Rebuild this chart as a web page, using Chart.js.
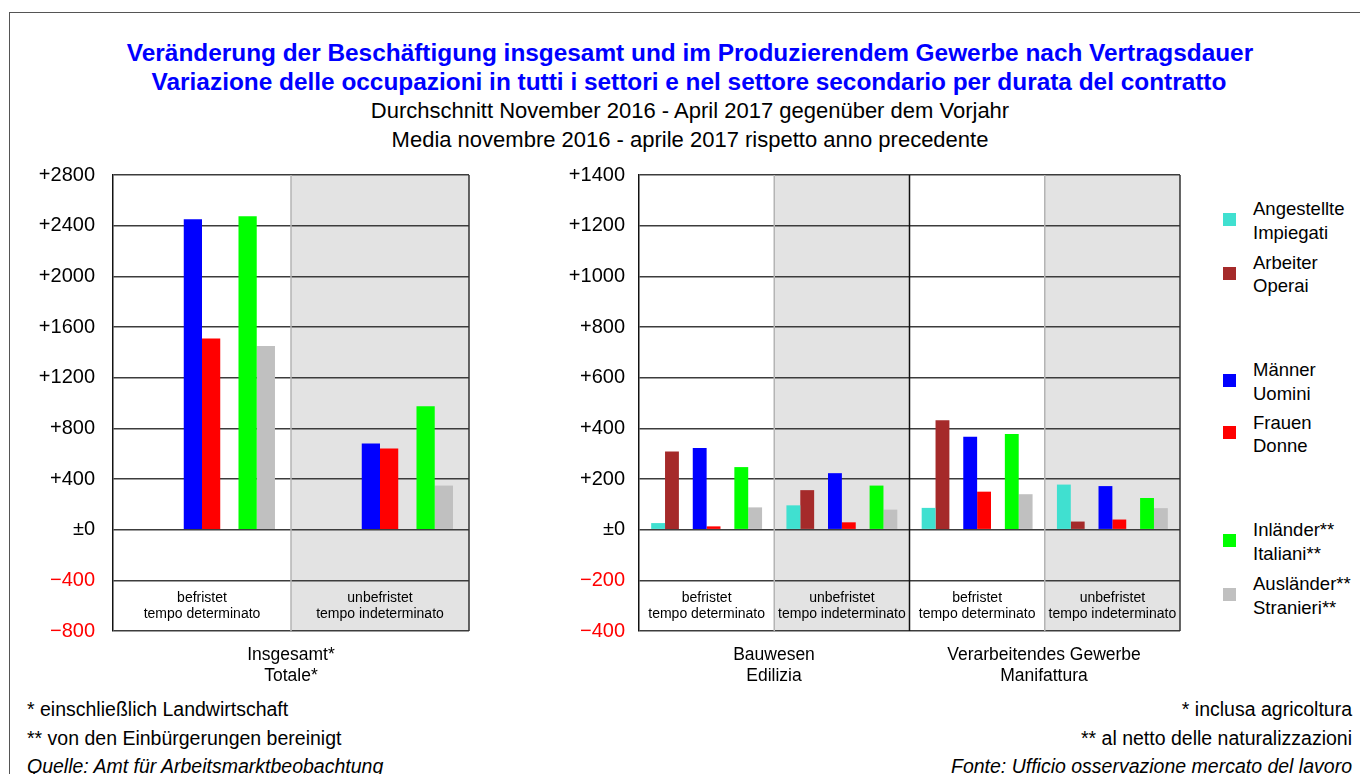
<!DOCTYPE html>
<html>
<head>
<meta charset="utf-8">
<script src="https://cdn.jsdelivr.net/npm/chart.js@4.4.0/dist/chart.umd.min.js"></script>
<style>
  body { margin: 0; background: #fff; font-family: "Liberation Sans", Arial, Helvetica, sans-serif; }
  #page { position: relative; width: 1360px; height: 774px; overflow: hidden; background: #fff; }
  #frame { position: absolute; left: 9px; top: 12px; width: 1400px; height: 800px;
           border-left: 1.5px solid #555; border-top: 1.5px solid #555; }
  .c { position: absolute; white-space: nowrap; transform: translate(-50%, -50%); }
  .title { color: #0000ff; font-weight: bold; font-size: 24.4px; }
  .sub { font-size: 22px; color: #000; }
  .axlab { font-size: 17.5px; color: #000; }
  .note { position: absolute; white-space: nowrap; font-size: 19.5px; color: #000; transform: translateY(-50%); }
  .note.r { right: 8px; }
  .note.l { left: 27px; }
  .note i { font-style: italic; }
  .sq { position: absolute; width: 13px; height: 13px; }
  .lg { position: absolute; white-space: nowrap; font-size: 18.5px; line-height: 23.5px; color: #000; }
  canvas { position: absolute; }
</style>
</head>
<body>
<div id="page">
  <div id="frame"></div>

  <div class="c title" style="left:690px; top:53px;">Veränderung der Beschäftigung insgesamt und im Produzierendem Gewerbe nach Vertragsdauer</div>
  <div class="c title" style="left:689px; top:82px;">Variazione delle occupazioni in tutti i settori e nel settore secondario per durata del contratto</div>
  <div class="c sub" style="left:690px; top:111px;">Durchschnitt November 2016 - April 2017 gegenüber dem Vorjahr</div>
  <div class="c sub" style="left:690px; top:140px;">Media novembre 2016 - aprile 2017 rispetto anno precedente</div>

  <canvas id="totale" width="480" height="560" style="left:0px; top:120px;"></canvas>
  <canvas id="settori" width="680" height="560" style="left:520px; top:120px;"></canvas>

  <div class="c axlab" style="left:291px; top:654px;">Insgesamt*</div>
  <div class="c axlab" style="left:291px; top:675px;">Totale*</div>
  <div class="c axlab" style="left:774px; top:654px;">Bauwesen</div>
  <div class="c axlab" style="left:774px; top:675px;">Edilizia</div>
  <div class="c axlab" style="left:1044px; top:654px;">Verarbeitendes Gewerbe</div>
  <div class="c axlab" style="left:1044px; top:675px;">Manifattura</div>

  <div class="note l" style="top:709px;">* einschließlich Landwirtschaft</div>
  <div class="note l" style="top:738px;">** von den Einbürgerungen bereinigt</div>
  <div class="note l" style="top:766px;"><i>Quelle: Amt für Arbeitsmarktbeobachtung</i></div>
  <div class="note r" style="top:709px;">* inclusa agricoltura</div>
  <div class="note r" style="top:738px;">** al netto delle naturalizzazioni</div>
  <div class="note r" style="top:766px;"><i>Fonte: Ufficio osservazione mercato del lavoro</i></div>

  <div id="legend"></div>
</div>

<script>
// categorie
const totaleLabels = [['befristet', 'tempo determinato'], ['unbefristet', 'tempo indeterminato']];
const settoriLabels = [
  ['befristet', 'tempo determinato'], ['unbefristet', 'tempo indeterminato'],
  ['befristet', 'tempo determinato'], ['unbefristet', 'tempo indeterminato']
];

// serie
const serieNomi = [
  ['Angestellte', 'Impiegati'],
  ['Arbeiter', 'Operai'],
  ['Männer', 'Uomini'],
  ['Frauen', 'Donne'],
  ['Inländer**', 'Italiani**'],
  ['Ausländer**', 'Stranieri**']
];
const serieColori = ['#40e0d0', '#a52a2a', '#0000ff', '#ff0000', '#00ff00', '#c0c0c0'];

// Insgesamt / Totale
const totaleMaenner = [2450, 680];
const totaleFrauen = [1510, 640];
const totaleInlaender = [2475, 975];
const totaleAuslaender = [1450, 348];

// Bauwesen (0,1) + Verarbeitendes Gewerbe (2,3)
const settoriAngestellte = [26, 96, 86, 178];
const settoriArbeiter = [309, 156, 432, 32];
const settoriMaenner = [322, 223, 367, 172];
const settoriFrauen = [13, 29, 150, 40];
const settoriInlaender = [247, 174, 378, 125];
const settoriAuslaender = [88, 79, 140, 85];

// tick
const totaleTicks = { min: -800, max: 2800, step: 400 };
const settoriTicks = { min: -400, max: 1400, step: 200 };

const FONT = '"Liberation Sans", Arial, Helvetica, sans-serif';

function formatta(v) {
  if (v > 0) return '+' + v;
  if (v == 0) return '±0';
  return '\u2212' + Math.abs(v);
}

function dataset(valori, i) {
  return { data: valori, backgroundColor: serieColori[i], borderWidth: 0 };
}

// slot vuoti fra le coppie di colonne
function vuoto(n) {
  return { data: new Array(n).fill(null), backgroundColor: 'rgba(0,0,0,0)' };
}

function costruisciSerie(ang, arb, mae, fra, inl, aus) {
  const n = mae.length;
  return [
    dataset(ang, 0), dataset(arb, 1), vuoto(n),
    dataset(mae, 2), dataset(fra, 3), vuoto(n),
    dataset(inl, 4), dataset(aus, 5)
  ];
}

const pannello = {
  id: 'pannello',
  beforeDraw(chart) {
    const ctx = chart.ctx;
    const a = chart.chartArea;
    const n = chart.data.labels.length;
    const w = (a.right - a.left) / n;
    ctx.save();
    ctx.fillStyle = '#e3e3e3';
    for (let i = 1; i < n; i += 2) {
      ctx.fillRect(a.left + i * w, a.top, w, a.bottom - a.top);
    }
    ctx.restore();
  },
  beforeDatasetsDraw(chart, args, opts) {
    const ctx = chart.ctx;
    const a = chart.chartArea;
    const n = chart.data.labels.length;
    const w = (a.right - a.left) / n;
    ctx.save();
    for (let i = 1; i < n; i++) {
      const x = a.left + i * w;
      ctx.strokeStyle = (opts.nero || []).includes(i) ? '#111' : '#b4b4b4';
      ctx.lineWidth = 1.5;
      ctx.beginPath();
      ctx.moveTo(x, a.top);
      ctx.lineTo(x, a.bottom);
      ctx.stroke();
    }
    ctx.strokeStyle = '#333';
    ctx.lineWidth = 1.5;
    ctx.beginPath();
    ctx.moveTo(a.right, a.top);
    ctx.lineTo(a.right, a.bottom);
    ctx.stroke();
    ctx.restore();
  },
  afterDatasetsDraw(chart) {
    const ctx = chart.ctx;
    const a = chart.chartArea;
    const y = chart.scales.y;
    const n = chart.data.labels.length;
    const w = (a.right - a.left) / n;
    const step = y.ticks[1].value - y.ticks[0].value;
    const yc = (y.getPixelForValue(y.min) + y.getPixelForValue(y.min + step)) / 2;
    ctx.save();
    ctx.fillStyle = '#000';
    ctx.font = '14px ' + FONT;
    ctx.textAlign = 'center';
    ctx.textBaseline = 'middle';
    chart.data.labels.forEach(function (lab, i) {
      const xc = a.left + (i + 0.5) * w;
      ctx.fillText(lab[0], xc, yc - 8);
      ctx.fillText(lab[1], xc, yc + 8.5);
    });
    ctx.restore();
  }
};

function opzioni(t, larghezzaAsse, paddingDestra, paddingTick, nero) {
  return {
    responsive: false,
    animation: false,
    layout: { padding: { top: 55, right: paddingDestra, bottom: 49, left: 0 } },
    datasets: { bar: { barPercentage: 1.0, categoryPercentage: 0.82 } },
    plugins: {
      legend: { display: false },
      tooltip: { enabled: false },
      pannello: { nero: nero }
    },
    scales: {
      x: { display: false },
      y: {
        min: t.min,
        max: t.max,
        afterFit: function (scale) { scale.width = larghezzaAsse; },
        ticks: {
          stepSize: t.step,
          padding: paddingTick,
          font: { size: 20, family: FONT },
          color: function (c) { return c.tick.value < 0 ? '#ff0000' : '#000'; },
          callback: formatta
        },
        grid: { color: '#3c3c3c', lineWidth: 1.5, drawTicks: false },
        border: { color: '#111', width: 1.5 }
      }
    }
  };
}

new Chart(document.getElementById('totale'), {
  type: 'bar',
  data: {
    labels: totaleLabels,
    datasets: costruisciSerie([null, null], [null, null], totaleMaenner, totaleFrauen, totaleInlaender, totaleAuslaender)
  },
  options: opzioni(totaleTicks, 113, 11, 18, []),
  plugins: [pannello]
});

new Chart(document.getElementById('settori'), {
  type: 'bar',
  data: {
    labels: settoriLabels,
    datasets: costruisciSerie(settoriAngestellte, settoriArbeiter, settoriMaenner, settoriFrauen, settoriInlaender, settoriAuslaender)
  },
  options: opzioni(settoriTicks, 119, 20, 14, [2]),
  plugins: [pannello]
});

// legenda
const legendaY = [209, 262.7, 370, 422.3, 530, 584];
const legenda = document.getElementById('legend');
serieNomi.forEach(function (nome, i) {
  const sq = document.createElement('div');
  sq.className = 'sq';
  sq.style.left = '1223px';
  sq.style.top = (legendaY[i] + 10.5 - 6.5) + 'px';
  sq.style.background = serieColori[i];
  legenda.appendChild(sq);
  const t = document.createElement('div');
  t.className = 'lg';
  t.style.left = '1253px';
  t.style.top = (legendaY[i] - 11.75) + 'px';
  t.innerHTML = nome[0] + '<br>' + nome[1];
  legenda.appendChild(t);
});
</script>
</body>
</html>
